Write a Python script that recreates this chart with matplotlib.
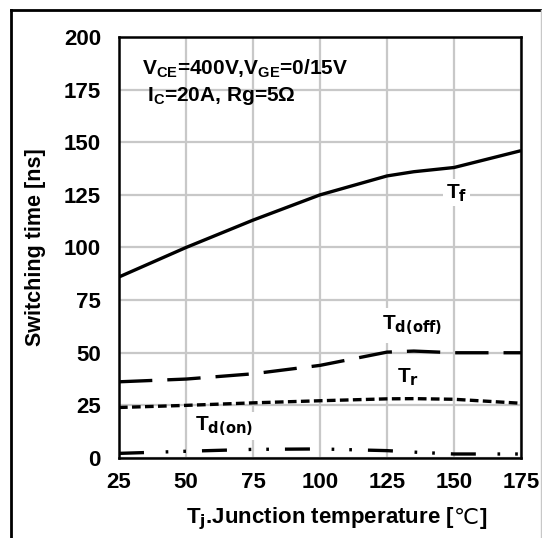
import matplotlib.pyplot as plt
from matplotlib.lines import Line2D
from matplotlib.offsetbox import TextArea, HPacker, AnnotationBbox

plt.rcParams["font.family"] = ["Liberation Sans", "DejaVu Sans"]
plt.rcParams["font.weight"] = "bold"

temps = [25, 50, 75, 100, 125, 135, 150, 175]
t_f = [86, 100, 113, 125, 134, 136, 138, 146]
t_doff = [36.2, 37.5, 40, 44, 50.3, 50.8, 50, 50]
t_r = [24, 25, 26.2, 27.2, 28.1, 28.2, 27.9, 26]
t_don = [2.2, 3.2, 4.1, 4.3, 3.5, 2.8, 1.9, 1.9]

x_ticks = [25, 50, 75, 100, 125, 150, 175]
y_ticks = [0, 25, 50, 75, 100, 125, 150, 175, 200]

fig = plt.figure(figsize=(5.42, 5.38), dpi=100)
ax = fig.add_axes([119 / 542, 1 - 458 / 538, 402 / 542, 421 / 538])

# outer frame (black top/left, grey right)
fig.add_artist(Line2D([11 / 542, 541 / 542], [1 - 10 / 538] * 2, color="black", lw=2,
                      transform=fig.transFigure))
fig.add_artist(Line2D([11 / 542] * 2, [0, 1 - 10 / 538], color="black", lw=2,
                      transform=fig.transFigure))
fig.add_artist(Line2D([540.5 / 542] * 2, [0, 1 - 10 / 538], color="#c8c8c8", lw=1,
                      transform=fig.transFigure))

lw = 2.4
ax.plot(temps, t_f, color="black", lw=lw, solid_capstyle="butt")
ax.plot(temps, t_doff, color="black", lw=lw, dashes=(10, 4.5), dash_capstyle="butt")
ax.plot(temps, t_r, color="black", lw=lw, dashes=(2.6, 1.3), dash_capstyle="butt")
ax.plot(temps, t_don, color="black", lw=lw,
        dashes=(7.5, 6.5, 0.8, 4.5, 0.8, 4.8), dash_capstyle="butt")

ax.set_xlim(25, 175)
ax.set_ylim(0, 200)
ax.set_xticks(x_ticks)
ax.set_yticks(y_ticks)
ax.grid(True, color="#c8c8c8", lw=1.6)
ax.set_axisbelow(True)
ax.tick_params(length=0, labelsize=16)
ax.tick_params(axis="y", pad=13)
ax.tick_params(axis="x", pad=10)
for lab in ax.get_xticklabels() + ax.get_yticklabels():
    lab.set_fontweight("bold")
for sp in ax.spines.values():
    sp.set_linewidth(1.8)

ax.set_ylabel("Switching time [ns]", fontsize=15.5, fontweight="bold")
ax.yaxis.set_label_coords(-0.182, 0.5)

# x label: the degree-C sign needs DejaVu, so build it from pieces
xl_main = TextArea("T$_\\mathbf{j}$.Junction temperature [",
                   textprops=dict(fontsize=16, fontweight="bold"))
xl_deg = TextArea("\u2103", textprops=dict(fontsize=16, fontweight="normal",
                                          family="DejaVu Sans"))
xl_end = TextArea("]", textprops=dict(fontsize=16, fontweight="bold"))
xl = HPacker(children=[xl_main, xl_deg, xl_end], align="baseline", pad=0, sep=0)
ax.add_artist(AnnotationBbox(xl, (0.54, -0.145), xycoords="axes fraction",
                             box_alignment=(0.5, 0.5), frameon=False,
                             annotation_clip=False))

ax.text(33.6, 184.8, "V$_\\mathregular{CE}$=400V,V$_\\mathregular{GE}$=0/15V", fontsize=15,
        fontweight="bold", va="center", ha="left")
ax.text(35.5, 172, "I$_\\mathregular{C}$=20A, Rg=5\u03a9", fontsize=15,
        fontweight="bold", va="center", ha="left")

box = dict(facecolor="white", edgecolor="none", pad=2)
ax.text(151, 126, "T$_\\mathbf{f}$", fontsize=15, ha="center", va="center", bbox=box)
ax.text(134.5, 63, "T$_\\mathbf{d(off)}$", fontsize=15, ha="center", va="center",
        bbox=dict(facecolor="white", edgecolor="none", pad=4))
ax.text(133, 38.5, "T$_\\mathbf{r}$", fontsize=15, ha="center", va="center")
ax.text(64, 15.2, "T$_\\mathbf{d(on)}$", fontsize=15, ha="center", va="center", bbox=box)

fig.savefig("out.png", dpi=100)
